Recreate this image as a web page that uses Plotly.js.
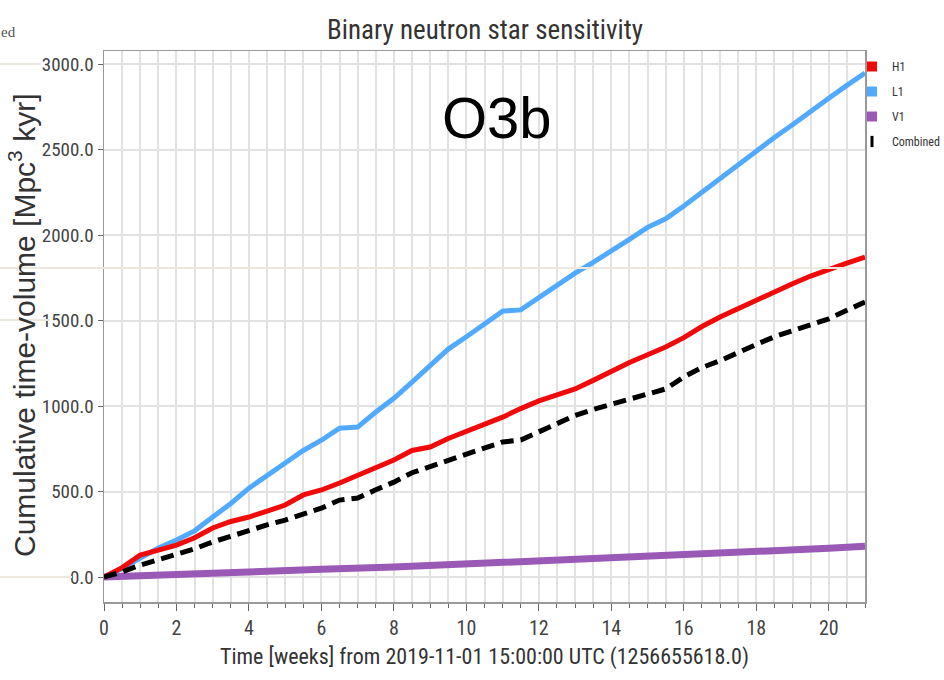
<!DOCTYPE html>
<html>
<head>
<meta charset="utf-8">
<script src="https://cdn.plot.ly/plotly-3.0.1.min.js"></script>
<style>html,body{margin:0;padding:0;background:#fff;}#chart{width:944px;height:680px;}</style>
</head>
<body>
<div id="chart"></div>
<script>
// ---- data ----
const weeks = [0,0.5,1,1.5,2,2.5,3,3.5,4,4.5,5,5.5,6,6.5,7,7.5,8,8.5,9,9.5,10,10.5,11,11.5,12,12.5,13,13.5,14,14.5,15,15.5,16,16.5,17,17.5,18,18.5,19,19.5,20,20.5,21];
const h1 = [0,55,129,160,187,230,287,325,351,385,421,480,509,550,596,640,684,740,760,810,850,895,935,985,1030,1065,1100,1150,1205,1255,1300,1345,1400,1465,1520,1570,1620,1665,1715,1760,1800,1835,1871];
const l1 = [0,50,111,170,216,270,351,430,520,590,667,740,800,870,877,965,1045,1140,1235,1333,1405,1480,1555,1562,1635,1706,1777,1840,1905,1975,2045,2095,2170,2250,2335,2415,2490,2570,2645,2725,2800,2875,2947];
const combined = [0,30,70,100,129,165,205,240,275,305,333,370,403,450,462,510,555,610,645,682,720,755,790,801,850,900,945,980,1010,1045,1076,1100,1170,1225,1265,1316,1360,1405,1440,1470,1510,1560,1608];
const v1Weeks = [0,2,4,6,8,10,12,14,16,18,20,21];
const v1 = [0,18,30,45,58,75,90,111,130,145,168,180];
const seriesNames = ['H1','L1','V1','Combined'];
const yTickVals = [0,500,1000,1500,2000,2500,3000];
const yTickText = ['0.0','500.0','1000.0','1500.0','2000.0','2500.0','3000.0'];
const xTickVals = [0,2,4,6,8,10,12,14,16,18,20];

const NARROW = '"Roboto Condensed", "Liberation Sans Narrow", "DejaVu Sans Condensed", "Arial Narrow", sans-serif';
const colors = {H1:'#f00a0a', L1:'#52aaff', V1:'#9b59b6', Combined:'#000000'};

const traces = [
  {x: v1Weeks, y: v1, mode:'lines', line:{color:colors.V1, width:7}, showlegend:false, hoverinfo:'skip'},
  {x: weeks, y: l1, mode:'lines', line:{color:colors.L1, width:5}, showlegend:false, hoverinfo:'skip'},
  {x: weeks, y: h1, mode:'lines', line:{color:colors.H1, width:5}, showlegend:false, hoverinfo:'skip'},
  {x: weeks, y: combined, mode:'lines', line:{color:colors.Combined, width:5, dash:'13px,7px'}, showlegend:false, hoverinfo:'skip'},
  // legend entries
  {x:[null], y:[null], mode:'markers', name:seriesNames[0], legendgroup:'a', marker:{symbol:'square', size:10, color:colors.H1}},
  {x:[null], y:[null], mode:'markers', name:seriesNames[1], legendgroup:'b', marker:{symbol:'square', size:10, color:colors.L1}},
  {x:[null], y:[null], mode:'markers', name:seriesNames[2], legendgroup:'c', marker:{symbol:'square', size:10, color:colors.V1}},
  {x:[null], y:[null], mode:'markers', name:seriesNames[3], legendgroup:'d', marker:{symbol:'line-ns-open', size:8, line:{width:3, color:colors.Combined}, color:colors.Combined}}
];

const L = 104, T = 51, W = 761, H = 551;
const px = v => (v - L) / W;
const py = v => (T + H - v) / H;
const beige = '#ece8dc';

const layout = {
  width: 944, height: 680,
  margin: {l: L, r: 944 - L - W, t: T, b: 680 - T - H, pad: 0, autoexpand: false},
  paper_bgcolor: '#ffffff', plot_bgcolor: '#ffffff',
  title: {text: 'Binary neutron star sensitivity', x: 485/944, xanchor: 'center', y: 1 - 30/680, yanchor: 'middle',
          font: {family: NARROW, size: 27, color: '#333333'}},
  xaxis: {
    range: [0, 21], tickvals: xTickVals, ticks: 'outside', ticklen: 7, tickwidth: 1, tickcolor: '#666',
    showgrid: true, gridcolor: '#e2e2e2', gridwidth: 2, zeroline: false,
    showline: true, linecolor: '#999999', linewidth: 1.5, mirror: true,
    tickfont: {family: NARROW, size: 20, color: '#444444'},
    minor: {dtick: 0.5, tick0: 0, ticks: 'outside', ticklen: 4, tickcolor: '#666', showgrid: true, gridcolor: '#e2e2e2', gridwidth: 2},
    title: {text: 'Time [weeks] from 2019-11-01 15:00:00 UTC (1256655618.0)', standoff: 10,
            font: {family: NARROW, size: 22, color: '#333333'}},
    automargin: false
  },
  yaxis: {
    range: [-146, 3076], tickvals: yTickVals, ticktext: yTickText, ticks: 'outside', ticklen: 5, tickcolor: '#666',
    showgrid: true, gridcolor: '#e2e2e2', gridwidth: 2, zeroline: false,
    showline: true, linecolor: '#999999', linewidth: 1.5, mirror: true,
    tickfont: {family: NARROW, size: 19, color: '#444444'},
    automargin: false
  },
  legend: {xref: 'container', yref: 'container', x: 852/944, xanchor: 'left', y: 1 - 52/680, yanchor: 'top', bgcolor: 'rgba(0,0,0,0)',
           font: {family: NARROW, size: 12, color: '#333333'}, tracegroupgap: 6, itemclick: false},
  annotations: [
    {text: 'Cumulative time-volume [Mpc<sup>3</sup> kyr]', textangle: -90, x: px(22), y: py(326), xref: 'paper', yref: 'paper',
     showarrow: false, xanchor: 'center', yanchor: 'middle',
     font: {family: '"Liberation Sans", Arial, sans-serif', size: 30, color: '#333333'}},
    {text: 'O3b', x: px(497), y: py(118), xref: 'paper', yref: 'paper', showarrow: false, xanchor: 'center', yanchor: 'middle',
     font: {family: '"Liberation Sans", Arial, sans-serif', size: 58, color: '#000000'}},
    {text: 'ed', x: px(-1), y: py(32), xref: 'paper', yref: 'paper', showarrow: false, xanchor: 'left', yanchor: 'middle',
     font: {family: '"Liberation Serif", "DejaVu Serif", serif', size: 15, color: '#555555'}}
  ],
  shapes: [
    {type: 'line', xref: 'paper', yref: 'paper', x0: px(0), x1: 1, y0: py(268), y1: py(268), line: {color: beige, width: 2}, layer: 'above'},
    {type: 'line', xref: 'paper', yref: 'paper', x0: px(0), x1: px(41), y0: py(64), y1: py(64), line: {color: beige, width: 2}},
    {type: 'line', xref: 'paper', yref: 'paper', x0: px(0), x1: px(50), y0: py(320), y1: py(320), line: {color: beige, width: 2}},
    {type: 'line', xref: 'paper', yref: 'paper', x0: px(0), x1: px(72), y0: py(577), y1: py(577), line: {color: beige, width: 2}}
  ],
  showlegend: true
};

Plotly.newPlot('chart', traces, layout, {staticPlot: true, displayModeBar: false});
</script>
</body>
</html>
